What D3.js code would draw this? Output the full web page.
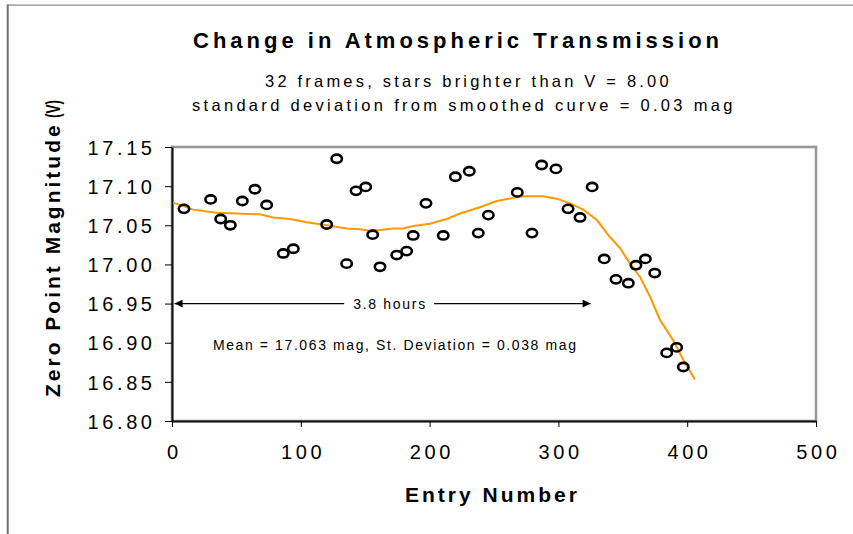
<!DOCTYPE html>
<html>
<head>
<meta charset="utf-8">
<script src="https://cdn.jsdelivr.net/npm/d3@7"></script>
<style>
  body { margin: 0; background: #fff; }
  svg { font-family: "Liberation Sans", Arial, sans-serif; }
</style>
</head>
<body>
<div id="chart"></div>
<script>
// Observed zero point magnitudes (entry number, magnitude)
const entryNumber = [9.3, 30.0, 37.8, 45.3, 54.6, 64.4, 73.5, 86.4, 94.2, 120.1,
                     127.9, 135.6, 142.9, 150.4, 155.8, 161.5, 174.5, 182.2, 187.3, 197.2,
                     210.6, 220.0, 230.8, 237.8, 245.6, 268.1, 279.5, 287.0, 298.1, 307.5,
                     316.8, 326.2, 335.6, 344.7, 354.3, 360.2, 367.5, 374.8, 384.1, 391.8, 397.0];
const zeroPoint = [17.071, 17.083, 17.058, 17.050, 17.081, 17.096, 17.076, 17.014, 17.020, 17.051,
                   17.135, 17.001, 17.094, 17.099, 17.038, 16.997, 17.012, 17.017, 17.037, 17.078,
                   17.037, 17.112, 17.119, 17.040, 17.063, 17.092, 17.040, 17.127, 17.122, 17.071,
                   17.060, 17.099, 17.007, 16.981, 16.976, 16.999, 17.007, 16.989, 16.887, 16.894, 16.869];

// Smoothed curve
const smoothX = [1, 16.5, 34.7, 50.2, 68.3, 78.6, 91.6, 104.6, 120.1, 135.6, 146, 153.7, 161.5,
                 171.8, 179.6, 187.3, 200.3, 213.3, 223.6, 239.1, 252.1, 265, 272.8, 288.3, 298.7,
                 309, 319.3, 329.7, 340, 347.8, 355.6, 363.4, 371.1, 378.9, 389.2, 397, 406];
const smoothY = [17.079, 17.070, 17.066, 17.065, 17.064, 17.060, 17.058, 17.054, 17.050, 17.046,
                 17.045, 17.043, 17.044, 17.046, 17.046, 17.049, 17.052, 17.058, 17.065, 17.073,
                 17.081, 17.085, 17.087, 17.087, 17.084, 17.078, 17.070, 17.057, 17.035, 17.021,
                 17.001, 16.984, 16.959, 16.929, 16.903, 16.878, 16.853];

// Axis ticks
const xTicks = [0, 100, 200, 300, 400, 500];
const yTicks = [16.80, 16.85, 16.90, 16.95, 17.00, 17.05, 17.10, 17.15];

// Annotation values (data units)
const spanStart = 2, spanEnd = 325, spanLevel = 16.95, spanLabelX = 168.6;
const statsX = 172.7, statsY = 16.8975;

const W = 853, H = 534;
const margin = {top: 147, right: 37, bottom: 113, left: 172},
      width = W - margin.left - margin.right,
      height = H - margin.top - margin.bottom;

const svg = d3.select("#chart").append("svg")
    .attr("width", W)
    .attr("height", H);

// Outer chart frame (only top and left edges are visible)
svg.append("line").attr("x1", 7).attr("x2", W).attr("y1", 5.2).attr("y2", 5.2)
    .attr("stroke", "#8a8a8a").attr("stroke-width", 1.2);
svg.append("line").attr("x1", 7.7).attr("x2", 7.7).attr("y1", 4.6).attr("y2", H)
    .attr("stroke", "#707070").attr("stroke-width", 2);

// Titles
svg.append("text")
    .attr("x", 193).attr("y", 47.5)
    .attr("font-size", 22).attr("font-weight", "bold")
    .attr("letter-spacing", 4)
    .text("Change in Atmospheric Transmission");
svg.append("text")
    .attr("x", 265).attr("y", 86.5)
    .attr("font-size", 16.5).attr("letter-spacing", 3.2)
    .text("32 frames, stars brighter than V = 8.00");
svg.append("text")
    .attr("x", 192).attr("y", 110.5)
    .attr("font-size", 16.5).attr("letter-spacing", 3.3)
    .text("standard deviation from smoothed curve = 0.03 mag");

const g = svg.append("g")
    .attr("transform", "translate(" + margin.left + "," + margin.top + ")");

const x = d3.scaleLinear().domain([0, 500]).range([0, width]);
const y = d3.scaleLinear().domain([16.80, 17.15]).range([height, 0]);

// Plot area border (gray top/right)
g.append("rect")
    .attr("width", width).attr("height", height)
    .attr("fill", "none").attr("stroke", "#999").attr("stroke-width", 2.6);

// Axes
const tickSpacing = 3.6;
const xAxis = g.append("g")
    .attr("transform", "translate(0," + height + ")")
    .call(d3.axisBottom(x).tickValues(xTicks).tickSize(6).tickPadding(18).tickSizeOuter(0));
const yAxis = g.append("g")
    .call(d3.axisLeft(y).tickValues(yTicks).tickFormat(d3.format(".2f")).tickSize(7).tickPadding(13).tickSizeOuter(0));

[xAxis, yAxis].forEach(a => {
    a.select(".domain").attr("stroke", "#111").attr("stroke-width", 2);
    a.selectAll(".tick line").attr("stroke", "#000").attr("stroke-width", 1);
    a.selectAll(".tick text")
        .attr("font-family", "Liberation Sans, Arial, sans-serif")
        .attr("font-size", 20).attr("letter-spacing", tickSpacing).attr("fill", "#000");
});
yAxis.selectAll(".tick text").attr("dy", "0.36em").attr("dx", tickSpacing);
xAxis.selectAll(".tick text").attr("dy", "0.72em").attr("dx", tickSpacing / 2);

// Axis titles
svg.append("text")
    .attr("x", 405).attr("y", 502.3)
    .attr("font-size", 21).attr("font-weight", "bold")
    .attr("letter-spacing", 3)
    .text("Entry Number");
svg.append("text")
    .attr("transform", "translate(60,397) rotate(-90)")
    .attr("font-size", 21).attr("font-weight", "bold")
    .attr("letter-spacing", 3)
    .text("Zero Point Magnitude");
// the "(V)" is squeezed into the top of the label
svg.append("text")
    .attr("transform", "translate(60,118) rotate(-90)")
    .attr("font-size", 21).attr("font-weight", "bold")
    .attr("textLength", 18).attr("lengthAdjust", "spacingAndGlyphs")
    .text("(V)");

// Smoothed curve
const line = d3.line().x(d => x(d[0])).y(d => y(d[1]));
g.append("path")
    .datum(smoothX.map((v, i) => [v, smoothY[i]]))
    .attr("d", line)
    .attr("fill", "none").attr("stroke", "#FF9900").attr("stroke-width", 2);

// Observations
g.selectAll(".obs")
    .data(entryNumber.map((v, i) => [v, zeroPoint[i]]))
    .enter().append("ellipse")
    .attr("class", "obs")
    .attr("cx", d => x(d[0])).attr("cy", d => y(d[1]))
    .attr("rx", 5.2).attr("ry", 4.1)
    .attr("fill", "none").attr("stroke", "#000").attr("stroke-width", 2.6);

// Duration arrow
const defs = svg.append("defs");
defs.append("marker").attr("id", "arr")
    .attr("viewBox", "0 0 10 10").attr("refX", 10).attr("refY", 5)
    .attr("markerWidth", 10).attr("markerHeight", 8).attr("markerUnits", "userSpaceOnUse")
    .attr("orient", "auto-start-reverse")
    .append("path").attr("d", "M0,0 L10,5 L0,10 Z").attr("fill", "#000");

const labelHalf = 45;
g.append("line")
    .attr("x1", x(spanLabelX) - labelHalf).attr("x2", x(spanStart))
    .attr("y1", y(spanLevel)).attr("y2", y(spanLevel))
    .attr("stroke", "#000").attr("stroke-width", 1.2)
    .attr("marker-end", "url(#arr)");
g.append("line")
    .attr("x1", x(spanLabelX) + labelHalf).attr("x2", x(spanEnd))
    .attr("y1", y(spanLevel)).attr("y2", y(spanLevel))
    .attr("stroke", "#000").attr("stroke-width", 1.2)
    .attr("marker-end", "url(#arr)");
g.append("text")
    .attr("x", x(spanLabelX)).attr("y", y(spanLevel))
    .attr("dy", "0.36em").attr("dx", 0.85).attr("text-anchor", "middle")
    .attr("font-size", 14).attr("letter-spacing", 1.7)
    .text("3.8 hours");

g.append("text")
    .attr("x", x(statsX)).attr("y", y(statsY))
    .attr("dy", "0.36em").attr("dx", 0.8).attr("text-anchor", "middle")
    .attr("font-size", 14).attr("letter-spacing", 1.6)
    .text("Mean = 17.063 mag, St. Deviation = 0.038 mag");
</script>
</body>
</html>
